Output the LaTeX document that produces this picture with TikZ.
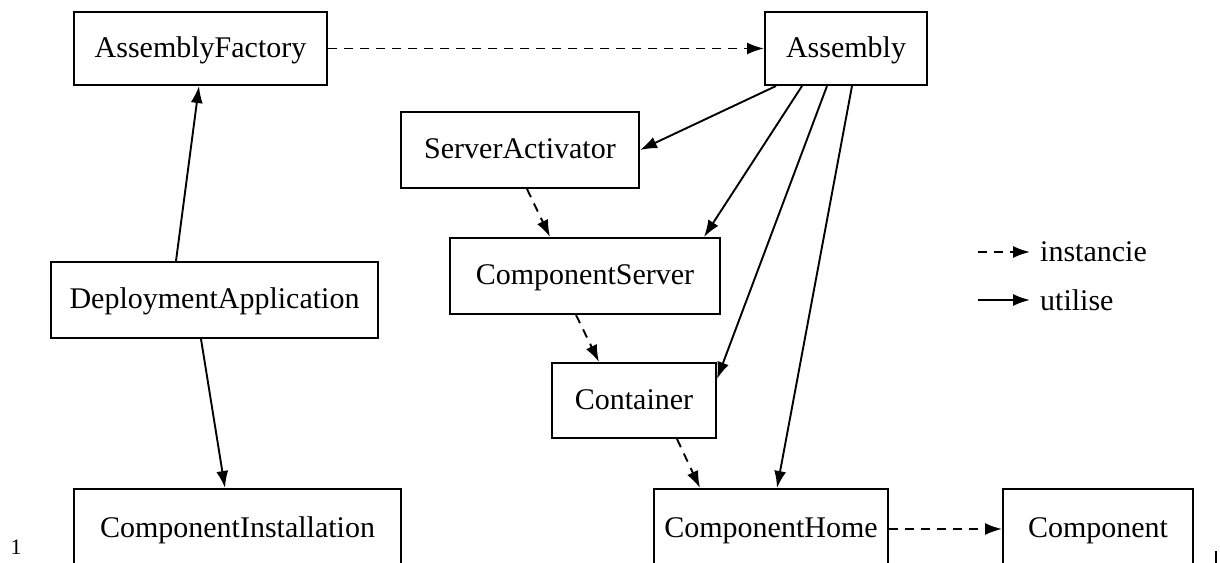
\documentclass[tikz,border=0pt]{standalone}
\usepackage{fontspec}
\setmainfont{Liberation Serif}
\usetikzlibrary{arrows.meta}
\begin{document}
\begin{tikzpicture}[x=1pt,y=-1pt,
  box/.style={draw, line width=2pt, inner sep=0pt, font=\fontsize{30}{35}\selectfont, text height=21pt, text depth=4pt},
  uses/.style={line width=1.9pt, -{Latex[length=17pt,width=12pt]}},
  inst/.style={uses, dash pattern=on 9pt off 7pt},
  lbl/.style={font=\fontsize{30}{35}\selectfont, inner sep=0pt}]
\useasboundingbox (0,0) rectangle (1220,562);
\clip (0,0) rectangle (1220,562);
\fill[white] (0,0) rectangle (1220,562);
% nodes
\node[box, minimum width=253pt, minimum height=73pt] (AF) at (200.5,48.5) {AssemblyFactory};
\node[box, minimum width=162pt, minimum height=73pt] (AS) at (846,48.5) {Assembly};
\node[box, minimum width=238pt, minimum height=76pt] (SA) at (520,150) {ServerActivator};
\node[box, minimum width=270pt, minimum height=76pt] (CS) at (585,276) {ComponentServer};
\node[box, minimum width=327pt, minimum height=76pt] (DA) at (214.5,300) {DeploymentApplication};
\node[box, minimum width=164pt, minimum height=75pt] (CT) at (634,400.5) {Container};
\node[box, minimum width=327pt, minimum height=80pt] (CI) at (237.5,529) {ComponentInstallation};
\node[box, minimum width=234pt, minimum height=80pt] (CH) at (771,529) {ComponentHome};
\node[box, minimum width=190pt, minimum height=80pt] (CO) at (1098,529) {Component};
% connectors
\draw[inst] (AF.east) -- (AS.west);
\draw[uses] ([xshift=126pt]DA.north west) -- ([xshift=126pt]AF.south west);
\draw[uses] ([xshift=151pt]DA.south west) -- ([xshift=152pt]CI.north west);
\draw[uses] ([xshift=12pt]AS.south west) -- (SA.east);
\draw[uses] ([xshift=38pt]AS.south west) -- ([xshift=255pt]CS.north west);
\draw[uses] ([xshift=63pt]AS.south west) -- ([yshift=-17pt]CT.north east);
\draw[uses] ([xshift=88pt]AS.south west) -- ([xshift=124pt]CH.north west);
\draw[inst] ([xshift=127pt]SA.south west) -- ([xshift=101pt]CS.north west);
\draw[inst] ([xshift=127pt]CS.south west) -- ([xshift=48pt]CT.north west);
\draw[inst] ([xshift=126pt]CT.south west) -- ([xshift=47pt]CH.north west);
\draw[inst] (CH.east) -- (CO.west);
% legend
\coordinate (l1) at (978,252);
\node[lbl, anchor=west] (t1) at (1040,252) {instancie};
\coordinate (l2) at (978,300);
\node[lbl, anchor=west] (t2) at (1040,300) {utilise};
\draw[inst, shorten >=10pt] (l1) -- (t1.west);
\draw[uses, shorten >=10pt] (l2) -- (t2.west);
% page artefacts
\node[font=\fontsize{22}{26}\selectfont, inner sep=0pt, anchor=south] (pg) at (16,555) {1};
\draw[line width=1.6pt] (1216,551) -- (1216,570);
\end{tikzpicture}
\end{document}
